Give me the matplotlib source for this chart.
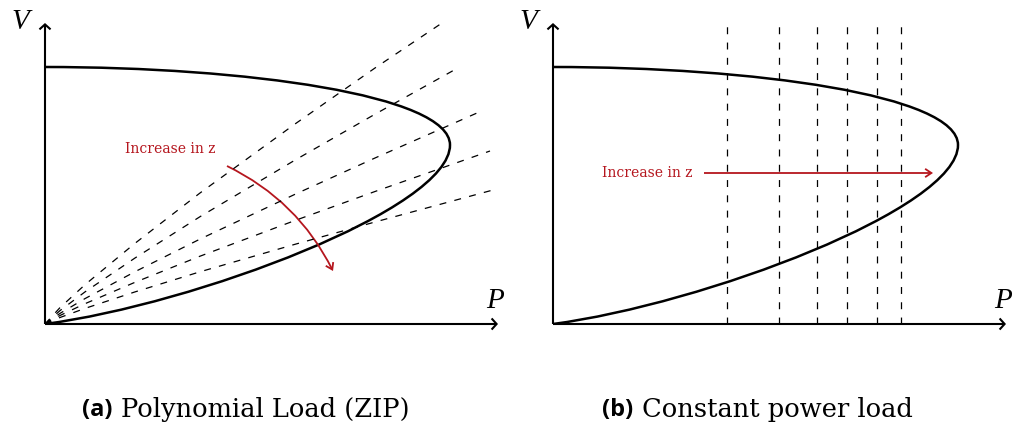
import matplotlib.pyplot as plt
from matplotlib.path import Path
from matplotlib.patches import PathPatch, FancyArrowPatch

plt.rcParams['lines.scale_dashes'] = False

RED = '#b5161e'

# PV nose curve: two cubic Bezier pieces (upper branch, then lower branch)
nose_P = [0.00, 2.00, 4.05, 4.05, 4.05, 1.50, 0.00]
nose_V = [2.57, 2.57, 2.29, 1.79, 1.15, 0.20, 0.00]

# ZIP load characteristics V(P), one curve per z value (small z on top)
zip_P = [
    [0, 0.15, 0.40, 0.90, 1.55, 2.50, 3.30, 3.97],
    [0, 0.15, 0.40, 0.90, 1.55, 2.50, 3.30, 4.11],
    [0, 0.15, 0.40, 0.90, 1.55, 2.50, 3.30, 4.32],
    [0, 0.15, 0.40, 0.90, 1.55, 2.50, 3.30, 4.45],
    [0, 0.15, 0.40, 0.90, 1.55, 2.50, 3.30, 4.48],
]
zip_V = [
    [0, 0.164, 0.393, 0.807, 1.31, 2.00, 2.56, 3.01],
    [0, 0.134, 0.321, 0.660, 1.073, 1.639, 2.098, 2.55],
    [0, 0.106, 0.254, 0.523, 0.849, 1.297, 1.660, 2.11],
    [0, 0.085, 0.203, 0.417, 0.678, 1.035, 1.325, 1.73],
    [0, 0.065, 0.156, 0.321, 0.522, 0.797, 1.020, 1.34],
]

# constant power loads: vertical lines P = const
cp_P = [1.74, 2.26, 2.64, 2.94, 3.24, 3.48]
cp_top = 3.02

axis_P_end = 4.53
axis_V_end = 3.01


def arrow(ax, p0, p1, color='black', lw=1.5, rad=0.0, hl=0.36, hw=0.4):
    a = FancyArrowPatch(p0, p1, arrowstyle=f'->,head_length={hl},head_width={hw}',
                        connectionstyle=f'arc3,rad={rad}', mutation_scale=10,
                        color=color, lw=lw, shrinkA=0, shrinkB=0,
                        capstyle='butt', joinstyle='miter', clip_on=False)
    ax.add_patch(a)


def draw_frame(ax, xmax):
    ax.set_xlim(0, xmax)
    ax.set_ylim(0, 3.15)
    ax.axis('off')
    arrow(ax, (0, 0), (axis_P_end, 0))
    arrow(ax, (0, 0), (0, axis_V_end))
    ax.text(-0.25, 3.02, 'V', fontsize=21, family='Liberation Serif', style='italic',
            ha='center', va='center', clip_on=False)
    ax.text(axis_P_end - 0.03, 0.23, 'P', fontsize=21, family='Liberation Serif',
            style='italic', ha='center', va='center', clip_on=False)
    codes = [Path.MOVETO] + [Path.CURVE4] * 6
    path = Path(list(zip(nose_P, nose_V)), codes)
    ax.add_patch(PathPatch(path, fc='none', ec='black', lw=1.8))


fig = plt.figure(figsize=(10.13, 4.28), dpi=100)
axL = fig.add_axes([45 / 1013, 104 / 428, 470 / 1013, 315 / 428])
axR = fig.add_axes([553 / 1013, 104 / 428, 460 / 1013, 315 / 428])

# (a) polynomial load
draw_frame(axL, 4.70)
for P, V in zip(zip_P, zip_V):
    axL.plot(P, V, color='black', lw=0.9, linestyle=(0, (5, 6)))
axL.text(1.25, 1.75, 'Increase in z', color=RED, fontsize=10,
         family='DejaVu Serif', ha='center', va='center')
arrow(axL, (1.82, 1.58), (2.88, 0.53), color=RED, lw=1.3, rad=-0.17, hl=0.45, hw=0.3)

# (b) constant power load
draw_frame(axR, 4.60)
for p in cp_P:
    axR.plot([p, p], [0, cp_top], color='black', lw=0.9, linestyle=(0, (5, 6)))
axR.text(0.94, 1.51, 'Increase in z', color=RED, fontsize=10,
         family='DejaVu Serif', ha='center', va='center')
arrow(axR, (1.51, 1.51), (3.80, 1.51), color=RED, lw=1.3, hl=0.45, hw=0.3)

# sub-captions
cap_y = 1 - 410 / 428
for x_lab, x_txt, lab, txt in [(112, 121, '(a)', 'Polynomial Load (ZIP)'),
                               (633, 642, '(b)', 'Constant power load')]:
    fig.text(x_lab / 1013, cap_y, lab, family='Open Sans', weight='bold',
             fontsize=17, ha='right', va='center')
    fig.text(x_txt / 1013, cap_y, txt, family='DejaVu Serif',
             fontsize=18.5, ha='left', va='center')

fig.savefig('out.png', dpi=100)
